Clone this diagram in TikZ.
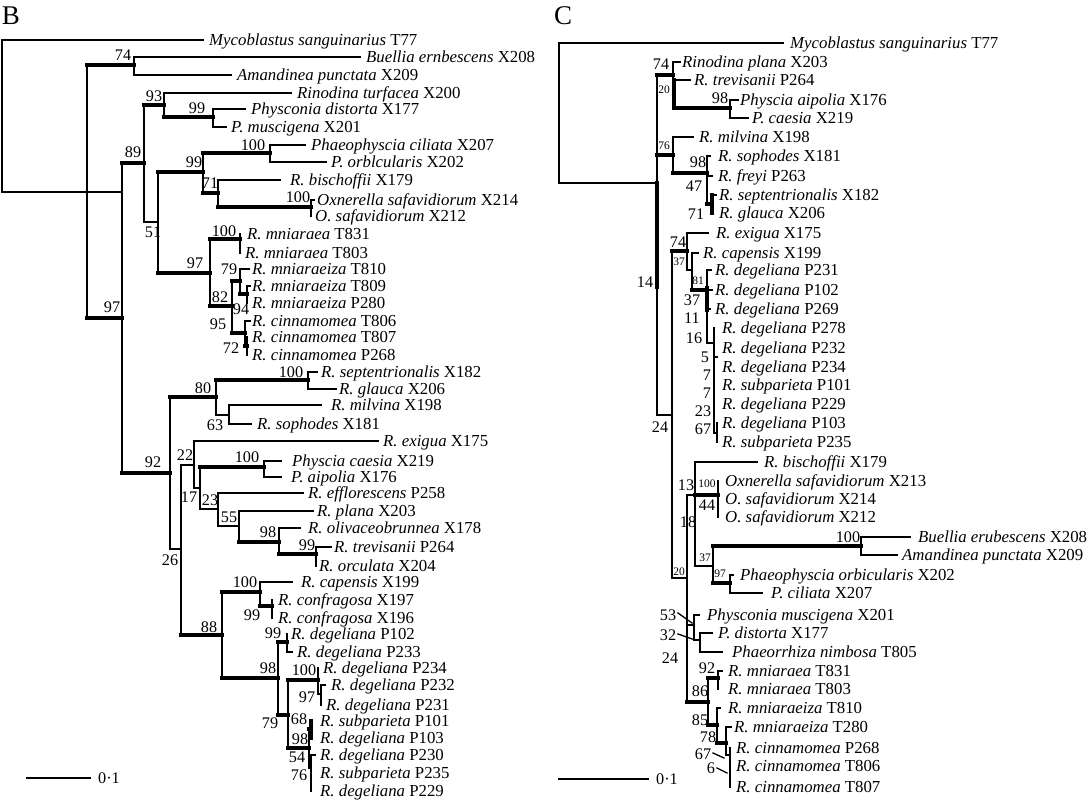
\documentclass[tikz,border=0pt]{standalone}
\usepackage{fontspec}
\setmainfont{Liberation Serif}
\tikzset{
  tn/.style={line width=1.3pt},
  tk/.style={line width=3.4pt},
  lab/.style={anchor=base west, yshift=-5.6pt, inner sep=0pt, font=\fontsize{16.8}{18}\selectfont},
  suplabel/.style={inner sep=0pt, font=\fontsize{16.2}{18}\selectfont},
  smlabel/.style={inner sep=0pt, font=\fontsize{11.5}{13}\selectfont},
  panel/.style={inner sep=0pt, font=\fontsize{27}{30}\selectfont}
}
\newcommand\thH[3]{\draw[tn] (#1,#3) -- (#2,#3);}
\newcommand\tkH[3]{\draw[tk] (#1,#3) -- (#2,#3);}
\newcommand\thV[3]{\draw[tn] (#1,#2) -- (#1,#3);}
\newcommand\tkV[3]{\draw[tk] (#1,#2) -- (#1,#3);}
\newcommand\leafl[3]{\node[lab] at (#1,#2) {#3};}
\newcommand\suplab[3]{\node[suplabel] at (#1,#2) {#3};}
\newcommand\smlab[3]{\node[smlabel] at (#1,#2) {#3};}
\begin{document}
\begin{tikzpicture}[x=1pt,y=-1pt,line cap=rect]
\useasboundingbox (0,0) rectangle (1088,800);
\fill[white] (0,0) rectangle (1088,800);
% ================= B =================
\node[panel] (pB) at (11,16) {B};
\thV{2}{40}{192}
\thH{2}{203}{40} \leafl{209}{40}{\textit{Mycoblastus sanguinarius} T77}
\thH{2}{122}{192}
\thV{87}{65}{318}
\tkH{87}{134}{65} \suplab{123}{55}{74}
\thV{134}{57}{75}
\thH{134}{360}{57} \leafl{366}{57}{\textit{Buellia ernbescens} X208}
\thH{134}{231}{75} \leafl{237}{75}{\textit{Amandinea punctata} X209}
\tkH{87}{122}{318} \suplab{112}{307}{97}
\thV{122}{163}{473}
\tkH{122}{144}{163} \suplab{133}{152}{89}
\thV{144}{105}{222}
\tkH{144}{164}{105} \suplab{154}{96}{93}
\thV{164}{93}{117}
\thH{164}{291}{93} \leafl{297}{93}{\textit{Rinodina turfacea} X200}
\tkH{164}{213}{117} \suplab{197}{108}{99}
\thV{213}{109}{127}
\thH{213}{245}{109} \leafl{251}{109}{\textit{Physconia distorta} X177}
\thH{213}{226}{127} \leafl{231}{127}{\textit{P. muscigena} X201}
\thH{144}{158}{222} \suplab{153}{232}{51}
\thV{158}{172}{273}
\tkH{158}{203}{172} \suplab{194}{162}{99}
\thV{203}{153}{193}
\tkH{203}{270}{153} \suplab{253}{145}{100}
\thV{270}{145}{162}
\thH{270}{305}{145} \leafl{311}{145}{\textit{Phaeophyscia ciliata} X207}
\thH{270}{326}{162} \leafl{331}{162}{\textit{P. orblcularis} X202}
\tkH{203}{218}{193} \suplab{210}{183}{71}
\thV{218}{180}{207}
\thH{218}{280}{180} \leafl{290}{180}{\textit{R. bischoffii} X179}
\tkH{218}{311}{207} \suplab{298}{197}{100}
\thV{311}{200}{216}
\thH{311}{314}{200} \leafl{317}{200}{\textit{Oxnerella safavidiorum} X214}
\leafl{315}{216}{\textit{O. safavidiorum} X212}
\tkH{158}{210}{273} \suplab{195}{263}{97}
\thV{210}{239}{306}
\tkH{210}{240}{239} \suplab{224}{231}{100}
\thV{240}{234}{253}
\leafl{247}{234}{\textit{R. mniaraea} T831}
\leafl{245}{253}{\textit{R. mniaraea} T803}
\tkH{210}{232}{306} \suplab{220}{297}{82}
\thV{232}{281}{333}
\tkH{232}{240}{281} \suplab{229}{269}{79}
\thV{240}{269}{294}
\thH{240}{249}{269} \leafl{252}{269}{\textit{R. mniaraeiza} T810}
\tkH{240}{247}{294} \suplab{241}{309}{94}
\thV{247}{286}{303}
\thH{247}{250}{286} \leafl{252}{286}{\textit{R. mniaraeiza} T809}
\leafl{252}{303}{\textit{R. mniaraeiza} P280}
\tkH{232}{245}{333} \suplab{218}{324}{95}
\thV{245}{321}{346}
\thH{245}{250}{321} \leafl{252}{321}{\textit{R. cinnamomea} T806}
\tkH{245}{247}{346} \suplab{231}{348}{72}
\thV{247}{337}{355}
\leafl{252}{337}{\textit{R. cinnamomea} T807}
\leafl{252}{355}{\textit{R. cinnamomea} P268}
% 92 clade
\tkH{122}{170}{473} \suplab{153}{462}{92}
\thV{170}{397}{549}
\tkH{170}{216}{397} \suplab{203}{388}{80}
\thV{216}{380}{415}
\tkH{216}{308}{380} \suplab{291}{372}{100}
\thV{308}{372}{389}
\thH{308}{317}{372} \leafl{321}{372}{\textit{R. septentrionalis} X182}
\thH{308}{336}{389} \leafl{339}{389}{\textit{R. glauca} X206}
\thH{216}{229}{415} \suplab{215}{425}{63}
\thV{229}{405}{424}
\thH{229}{321}{405} \leafl{331}{405}{\textit{R. milvina} X198}
\thH{229}{251}{424} \leafl{257}{424}{\textit{R. sophodes} X181}
\thH{170}{181}{549} \suplab{170}{560}{26}
\thV{181}{465}{635}
\thH{181}{194}{465} \suplab{185}{455}{22}
\thV{194}{441}{488}
\thH{194}{378}{441} \leafl{383}{441}{\textit{R. exigua} X175}
\thH{194}{200}{488} \suplab{189}{497}{17}
\thV{200}{467}{509}
\tkH{200}{264}{467} \suplab{247}{457}{100}
\thV{264}{461}{477}
\thH{264}{281}{461} \leafl{292}{461}{\textit{Physcia caesia} X219}
\thH{264}{281}{477} \leafl{291}{477}{\textit{P. aipolia} X176}
\thH{200}{218}{509} \suplab{210}{500}{23}
\thV{218}{493}{526}
\thH{218}{303}{493} \leafl{308}{493}{\textit{R. efflorescens} P258}
\thH{218}{239}{526} \suplab{229}{517}{55}
\thV{239}{511}{542}
\thH{239}{313}{511} \leafl{317}{511}{\textit{R. plana} X203}
\tkH{239}{279}{542} \suplab{268}{532}{98}
\thV{279}{528}{554}
\thH{279}{300}{528} \leafl{308}{528}{\textit{R. olivaceobrunnea} X178}
\tkH{279}{316}{554} \suplab{307}{545}{99}
\thV{316}{547}{566}
\thH{316}{331}{547} \leafl{334}{547}{\textit{R. trevisanii} P264}
\leafl{319}{566}{\textit{R. orculata} X204}
\tkH{181}{222}{635} \suplab{209}{627}{88}
\thV{222}{592}{678}
\tkH{222}{260}{592} \suplab{245}{582}{100}
\thV{260}{582}{606}
\thH{260}{292}{582} \leafl{301}{582}{\textit{R. capensis} X199}
\tkH{260}{272}{606} \suplab{252}{615}{99}
\thV{272}{600}{618}
\leafl{278}{600}{\textit{R. confragosa} X197}
\leafl{278}{618}{\textit{R. confragosa} X196}
\tkH{222}{278}{678} \suplab{268}{668}{98}
\thV{278}{642}{715}
\tkH{278}{287}{642} \suplab{273}{633}{99}
\thV{287}{634}{652}
\leafl{291}{634}{\textit{R. degeliana} P102}
\thH{287}{292}{652} \leafl{297}{652}{\textit{R. degeliana} P233}
\tkH{278}{288}{715} \suplab{270}{723}{79}
\thV{288}{680}{748}
\tkH{288}{318}{680} \suplab{304}{670}{100}
\thV{318}{668}{694}
\leafl{323}{668}{\textit{R. degeliana} P234}
\thH{318}{321}{694} \suplab{307}{697}{97}
\thV{321}{685}{705}
\thH{321}{325}{685} \leafl{331}{685}{\textit{R. degeliana} P232}
\leafl{326}{705}{\textit{R. degeliana} P231}
\tkH{288}{309}{748} \suplab{300}{739}{98}
\thV{309}{729}{768}
\tkH{309}{311}{729}
\tkV{311}{721}{738}
\leafl{320}{721}{\textit{R. subparieta} P101}
\leafl{320}{738}{\textit{R. degeliana} P103}
\thH{309}{311}{768}
\thV{311}{755}{791}
\thH{311}{315}{755}
\leafl{320}{755}{\textit{R. degeliana} P230}
\leafl{320}{773}{\textit{R. subparieta} P235}
\leafl{320}{791}{\textit{R. degeliana} P229}
\suplab{299}{719}{68} \suplab{297}{757}{54} \suplab{299}{775}{76}
\thH{27}{90}{778} \node[suplabel] (sbB) at (109,778) {0·1};
% ================= C =================
\node[panel] (pC) at (563,16) {C};
\thV{559}{43}{183}
\thH{559}{783}{43} \leafl{790}{43}{\textit{Mycoblastus sanguinarius} T77}
\thH{559}{657}{183}
\thV{657}{75}{415}
\tkV{657}{183}{287}
\tkH{657}{673}{75} \suplab{661}{64}{74}
\thV{673}{62}{94}
\thH{673}{680}{62} \leafl{682}{62}{\textit{Rinodina plana} X203}
\tkV{674}{80}{108}
\thH{674}{690}{80} \leafl{694}{80}{\textit{R. trevisanii} P264}
\smlab{664}{90}{20}
\tkH{674}{730}{108} \suplab{720}{98}{98}
\thV{730}{100}{118}
\thH{730}{738}{100} \leafl{740}{100}{\textit{Physcia aipolia} X176}
\thH{730}{748}{118} \leafl{752}{118}{\textit{P. caesia} X219}
\tkH{657}{673}{155} \smlab{664}{146}{76}
\thV{673}{137}{173}
\thH{673}{693}{137} \leafl{699}{137}{\textit{R. milvina} X198}
\tkH{673}{707}{173} \suplab{698}{162}{98}
\thV{707}{156}{204}
\thH{707}{710}{156} \leafl{718}{156}{\textit{R. sophodes} X181}
\thH{707}{712}{176} \leafl{718}{176}{\textit{R. freyi} P263}
\suplab{694}{186}{47}
\tkH{707}{712}{204}
\tkV{712}{195}{213}
\thH{712}{716}{195} \leafl{719}{195}{\textit{R. septentrionalis} X182}
\leafl{719}{213}{\textit{R. glauca} X206}
\suplab{696}{214}{71}
\suplab{645}{282}{14}
\thH{657}{672}{415} \suplab{660}{427}{24}
\thV{672}{251}{578}
\tkH{672}{687}{251} \suplab{678}{242}{74}
\thV{687}{233}{270}
\thH{687}{708}{233} \leafl{716}{233}{\textit{R. exigua} X175}
\thH{687}{692}{270} \smlab{679}{262}{37}
\thV{692}{253}{290}
\thH{692}{698}{253} \leafl{703}{253}{\textit{R. capensis} X199}
\tkH{692}{707}{290} \smlab{698}{281}{81}
\thV{707}{270}{343}
\tkV{707}{288}{310}
\thH{707}{711}{270} \leafl{715}{270}{\textit{R. degeliana} P231}
\thH{707}{712}{290} \leafl{715}{290}{\textit{R. degeliana} P102}
\thH{707}{710}{309} \leafl{715}{309}{\textit{R. degeliana} P269}
\suplab{692}{300}{37} \suplab{692}{318}{11} \suplab{694}{338}{16}
\suplab{705}{357}{5} \suplab{707}{375}{7} \suplab{707}{393}{7}
\suplab{703}{411}{23} \suplab{703}{429}{67}
\thH{707}{714}{343}
\thV{714}{328}{433}
\thH{714}{717}{357}
\thH{714}{717}{433}
\thV{717}{423}{442}
\leafl{722}{328}{\textit{R. degeliana} P278}
\leafl{722}{348}{\textit{R. degeliana} P232}
\leafl{722}{367}{\textit{R. degeliana} P234}
\leafl{722}{385}{\textit{R. subparieta} P101}
\leafl{722}{404}{\textit{R. degeliana} P229}
\leafl{722}{423}{\textit{R. degeliana} P103}
\leafl{722}{442}{\textit{R. subparieta} P235}
\thH{672}{687}{578} \smlab{679}{572}{20}
\thV{687}{495}{702}
\thH{687}{695}{495} \suplab{686}{485}{13}
\thV{695}{462}{566}
\thH{695}{757}{462} \leafl{764}{462}{\textit{R. bischoffii} X179}
\tkH{695}{718}{495} \smlab{707}{484}{100}
\thV{718}{481}{517}
\leafl{725}{481}{\textit{Oxnerella safavidiorum} X213}
\leafl{725}{499}{\textit{O. safavidiorum} X214}
\leafl{725}{517}{\textit{O. safavidiorum} X212}
\suplab{707}{505}{44}
\suplab{688}{522}{18}
\thH{695}{713}{566} \smlab{705}{558}{37}
\thV{713}{546}{583}
\tkH{713}{861}{546} \suplab{848}{537}{100}
\thV{861}{537}{555}
\thH{861}{910}{537} \leafl{918}{537}{\textit{Buellia erubescens} X208}
\thH{861}{897}{555} \leafl{902}{555}{\textit{Amandinea punctata} X209}
\tkH{713}{730}{583} \smlab{720}{574}{97}
\thV{730}{575}{593}
\thH{730}{733}{575} \leafl{740}{575}{\textit{Phaeophyscia orbicularis} X202}
\thH{730}{762}{593} \leafl{771}{593}{\textit{P. ciliata} X207}
\suplab{668}{615}{53} \draw[tn] (678,613) -- (692,623);
\suplab{668}{635}{32} \draw[tn] (678,634) -- (695,640);
\suplab{670}{658}{24}
\thH{687}{694}{625}
\thV{694}{615}{640}
\thH{694}{699}{615} \leafl{707}{615}{\textit{Physconia muscigena} X201}
\thH{694}{700}{640}
\thV{700}{633}{652}
\thH{700}{712}{633} \leafl{718}{633}{\textit{P. distorta} X177}
\thH{700}{722}{652} \leafl{732}{652}{\textit{Phaeorrhiza nimbosa} T805}
\tkH{687}{708}{702} \suplab{700}{691}{86}
\thV{708}{678}{725}
\tkH{708}{718}{678} \suplab{707}{668}{92}
\thV{718}{671}{689}
\thH{718}{722}{671} \leafl{728}{671}{\textit{R. mniaraea} T831}
\leafl{728}{689}{\textit{R. mniaraea} T803}
\tkH{708}{717}{725} \suplab{700}{720}{85}
\thV{717}{708}{743}
\thH{717}{720}{708} \leafl{728}{708}{\textit{R. mniaraeiza} T810}
\tkH{717}{726}{743} \suplab{708}{737}{78}
\thV{726}{727}{755}
\thH{726}{731}{727} \leafl{734}{727}{\textit{R. mniaraeiza} T280}
\thH{726}{730}{755}
\thV{730}{748}{787}
\leafl{736}{748}{\textit{R. cinnamomea} P268}
\leafl{736}{766}{\textit{R. cinnamomea} T806}
\leafl{736}{787}{\textit{R. cinnamomea} T807}
\suplab{703}{754}{67} \draw[tn] (713,753) -- (724,758);
\suplab{711}{768}{6} \draw[tn] (717,768) -- (727,773);
\thH{559}{648}{779} \node[suplabel] (sbC) at (667,779) {0·1};
\end{tikzpicture}
\end{document}
